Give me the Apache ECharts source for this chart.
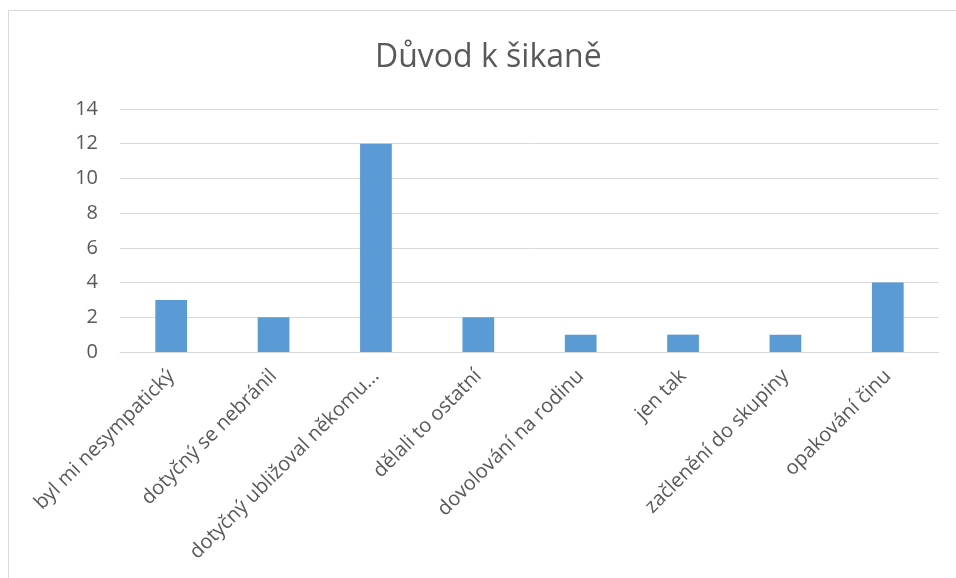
<!DOCTYPE html>
<html><head><meta charset="utf-8">
<script src="https://cdn.jsdelivr.net/npm/echarts@6/dist/echarts.min.js"></script>
<style>html,body{margin:0;padding:0;background:#fff;}#c{width:956px;height:578px;}</style>
</head><body><div id="c"></div>
<script>
const titleText = 'Důvod k šikaně';
const categories = ['byl mi nesympatický','dotyčný se nebránil','dotyčný ubližoval někomu...','dělali to ostatní','dovolování na rodinu','jen tak','začlenění do skupiny','opakování činu'];
const values = [3, 2, 12, 2, 1, 1, 1, 4];
const yTicks = {min: 0, max: 14, interval: 2};

const chart = echarts.init(document.getElementById('c'));
chart.setOption({
  animation: false,
  backgroundColor: '#fff',
  title: {text: titleText, left: 370, top: 37, textStyle: {fontFamily: 'Open Sans', fontSize: 32, fontWeight: 'normal', color: '#595959'}},
  graphic: [{type: 'rect', shape: {x: 8.5, y: 10.5, width: 1000, height: 700}, style: {fill: 'none', stroke: '#d9d9d9', lineWidth: 1}, silent: true}],
  grid: {left: 120, right: 17, top: 109, bottom: 226, containLabel: false},
  xAxis: {type: 'category', data: categories,
    axisLine: {lineStyle: {color: '#d9d9d9', width: 1}}, axisTick: {show: false},
    axisLabel: {rotate: 45, interval: 0, fontFamily: 'Open Sans', fontSize: 20, color: '#595959', margin: 21}},
  yAxis: {type: 'value', min: yTicks.min, max: yTicks.max, interval: yTicks.interval,
    axisLine: {show: false}, axisTick: {show: false},
    splitLine: {lineStyle: {color: '#d9d9d9', width: 1}},
    axisLabel: {fontFamily: 'Open Sans', fontSize: 20, color: '#595959', margin: 22}},
  series: [{type: 'bar', data: values, barWidth: '31%', itemStyle: {color: '#5b9bd5'}}]
});
</script></body></html>
